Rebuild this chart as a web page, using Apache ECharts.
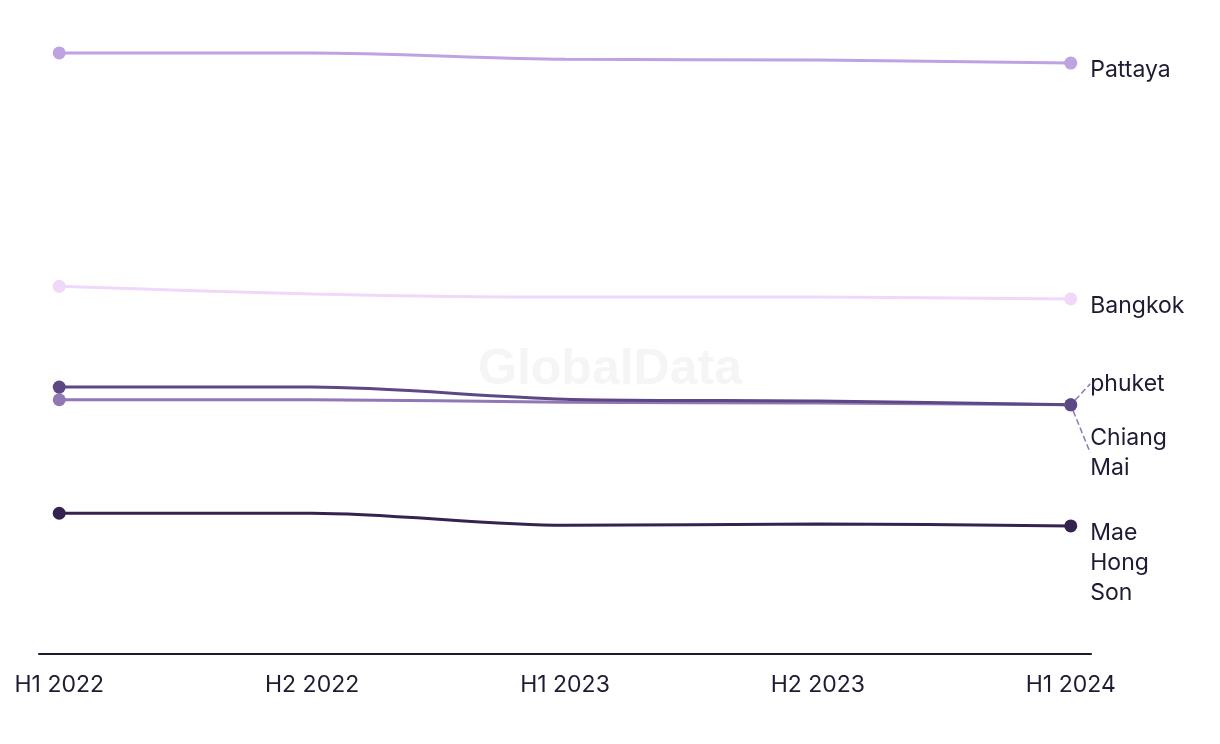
<!DOCTYPE html>
<html><head><meta charset="utf-8">
<script src="https://cdn.jsdelivr.net/npm/echarts@6/dist/echarts.min.js"></script>
<style>html,body{margin:0;padding:0;background:#fff}#c{width:1220px;height:744px}</style>
</head><body><div id="c"></div>
<script>
const categories = ['H1 2022','H2 2022','H1 2023','H2 2023','H1 2024'];
const pattaya = [94.8, 94.8, 93.8, 93.7, 93.2];
const bangkok = [58.0, 56.8, 56.3, 56.3, 56.0];
const phuket = [42.1, 42.1, 40.2, 39.9, 39.3];
const chiangMai = [40.1, 40.1, 39.7, 39.6, 39.3];
const maeHongSon = [22.2, 22.2, 20.3, 20.5, 20.2];

const seriesDefs = [
  {name:'Pattaya', data:pattaya, color:'#BEA3E2', dy:0},
  {name:'Bangkok', data:bangkok, color:'#F0D8FB', dy:0},
  {name:'Chiang Mai', data:chiangMai, color:'#8F78B5', dy:26},
  {name:'phuket', data:phuket, color:'#5D4784', dy:-28},
  {name:'Mae Hong Son', data:maeHongSon, color:'#35234F', dy:0}
];
const FONT = 'Inter, "Noto Sans", sans-serif';
const chart = echarts.init(document.getElementById('c'));
const series = seriesDefs.map(s => ({
  name: s.name, type:'line', smooth:0.3, symbolSize:13,
  lineStyle:{width:3, color:s.color}, itemStyle:{color:s.color},
  emphasis:{disabled:true},
  data: s.data.map((v,i)=>{
    const last = i===s.data.length-1;
    const item = {value:[i,v], symbol:(i===0||last)?'circle':'none'};
    if(last){
      item.label = {show:true, position:'right', distance:13, verticalAlign:'top',
        offset:[0, -8 + s.dy], color:'#1E1B33', fontSize:23, lineHeight:30, fontFamily:FONT,
        formatter: () => s.name.split(' ').join('\n')};
      if(s.dy!==0){
        item.labelLine = {show:true, length2:0, lineStyle:{type:'dashed', color:'#8F78B5', width:1.5}};
      }
    }
    return item;
  })
}));
chart.setOption({
  animation:false,
  backgroundColor:'#fff',
  grid:{left:39, right:129, top:20, bottom:90},
  xAxis:{type:'value', min:-0.08, max:4.08,
    axisLine:{show:true, onZero:false, lineStyle:{color:'#1A1A2E', width:2}},
    axisTick:{show:false}, splitLine:{show:false},
    axisLabel:{customValues:[0,1,2,3,4], formatter:v=>categories[Math.round(v)], color:'#1E1B33', fontSize:23, margin:20, fontFamily:FONT}
  },
  yAxis:{type:'value', min:0, max:100, show:false},
  graphic:[{type:'text', left:'center', top:345, z:-1, style:{text:'GlobalData', fontSize:50, fontWeight:'bold', fill:'#F5F5F5', fontFamily:'"Liberation Sans", Arial, sans-serif'}}],
  series: series
});
</script></body></html>
